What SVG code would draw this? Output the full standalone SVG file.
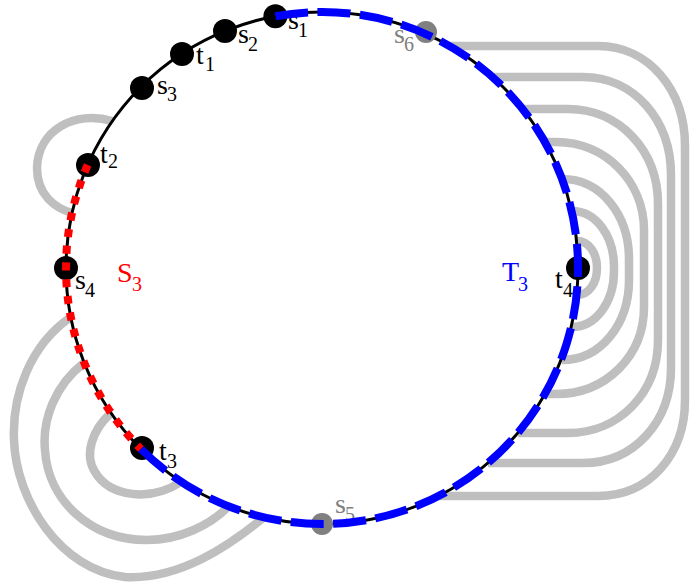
<svg xmlns="http://www.w3.org/2000/svg" width="691" height="584" viewBox="0 0 691 584">
<style>
.g{fill:none;stroke:#bfbfbf;stroke-width:8.5}
.c{fill:none;stroke:#000;stroke-width:3}
.n{fill:#000}
.gn{fill:#808080}
text{font-family:"Liberation Serif","DejaVu Serif",serif;font-size:28px;fill:#000}
.sub{font-size:20px}
.gl{fill:#808080}
.red{fill:none;stroke:#ff0000;stroke-width:8;stroke-dasharray:8 8.76}
.blue{fill:none;stroke:#0000ff;stroke-width:8;stroke-dasharray:33 9.46}
</style>
<rect width="691" height="584" fill="#fff"/>
<g id="connectors">
<path class="g" d="M 449 46 H 598 C 649 46 685 90 685 146 V 400 C 685 455 649 496 598 496 H 438"/>
<path class="g" d="M 492 77 H 583 C 634 77 671 120 671 175 V 368 C 671 422 634 463 583 463 H 488"/>
<path class="g" d="M 522 109 H 568 C 619 109 658 150 658 204 V 340 C 658 393 619 433 568 433 H 518"/>
<path class="g" d="M 545 142 H 556 C 606 142 644 182 644 230 V 307 C 644 356 606 394 556 394 H 545"/>
<path class="g" d="M 562 179 C 601 179 629 215 629 259 V 280 C 629 324 601 360 562 360"/>
<path class="g" d="M 572 211 C 596 211 614 236 614 267 V 271 C 614 302 596 327 572 327"/>
<path class="g" d="M 577 241 C 589 241 597 253 597 268 C 597 283 589 295 577 295"/>
<path class="g" d="M 112 121 C 75 110 38 130 37 168 C 37 195 55 208 72 213"/>
<path class="g" d="M 71 317 C 30 345 12 395 14 440 C 16 500 60 570 125 577 C 180 580 230 545 263 518"/>
<path class="g" d="M 84 363 C 55 385 42 420 45 450 C 48 500 90 540 147 540 C 180 540 210 525 228 507"/>
<path class="g" d="M 111 413 C 92 430 84 455 95 472 C 110 497 150 502 181 482"/>
<circle class="c" cx="322" cy="268" r="256"/>
</g>
<g id="s1"><circle class="n" cx="275.4" cy="16.3" r="12"/><text><tspan x="288" y="29">s</tspan><tspan class="sub" x="298" y="37">1</tspan></text></g>
<g id="s2"><circle class="n" cx="225" cy="31" r="12"/><text><tspan x="238" y="43">s</tspan><tspan class="sub" x="248" y="51">2</tspan></text></g>
<g id="t1"><circle class="n" cx="182" cy="54" r="12"/><text><tspan x="196" y="64">t</tspan><tspan class="sub" x="205" y="71">1</tspan></text></g>
<g id="s3"><circle class="n" cx="142" cy="88" r="12"/><text><tspan x="157" y="94">s</tspan><tspan class="sub" x="167" y="101">3</tspan></text></g>
<g id="t2"><circle class="n" cx="88" cy="165" r="12"/><text><tspan x="100" y="163">t</tspan><tspan class="sub" x="108" y="168">2</tspan></text></g>
<g id="s4"><circle class="n" cx="66" cy="268" r="12"/><text><tspan x="75" y="289">s</tspan><tspan class="sub" x="85" y="297">4</tspan></text></g>
<g id="t3"><circle class="n" cx="142" cy="448" r="12"/><text><tspan x="159" y="460">t</tspan><tspan class="sub" x="167" y="468">3</tspan></text></g>
<g id="t4"><circle class="n" cx="578" cy="268" r="12"/><text><tspan x="555" y="288">t</tspan><tspan class="sub" x="563" y="297">4</tspan></text></g>
<g id="s6"><circle class="gn" cx="426" cy="32" r="11"/><text class="gl"><tspan x="394" y="43">s</tspan><tspan class="sub" x="404" y="51">6</tspan></text></g>
<g id="s5"><circle class="gn" cx="322" cy="524" r="11"/><text class="gl"><tspan x="335" y="513">s</tspan><tspan class="sub" x="345" y="521">5</tspan></text></g>
<g id="S3"><text style="fill:#ff0000"><tspan x="117" y="282">S</tspan><tspan class="sub" x="132" y="291">3</tspan></text></g>
<g id="T3"><text style="fill:#0000ff"><tspan x="502" y="281">T</tspan><tspan class="sub" x="518" y="291">3</tspan></text></g>
<g id="overlays">
<path class="red" d="M 87.7 164.9 A 256 256 0 0 0 141 449"/>
<path class="blue" d="M 275.4 16.3 A 256 256 0 1 1 141 449"/>
</g>
</svg>
